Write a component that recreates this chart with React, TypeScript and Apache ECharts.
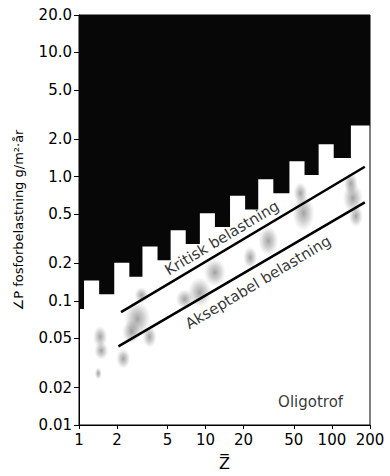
import React, { useEffect, useRef } from "react";
import * as echarts from "echarts";

// ---- axis ticks ----
const xTickValues = [1, 2, 5, 10, 20, 50, 100, 200];
const xTickLabels = ["1", "2", "5", "10", "20", "50", "100", "200"];
const yTickValues = [0.01, 0.02, 0.05, 0.1, 0.2, 0.5, 1, 2, 5, 10, 20];
const yTickLabels = ["0.01", "0.02", "0.05", "0.1", "0.2", "0.5", "1.0", "2.0", "5.0", "10.0", "20.0"];

// ---- dark (eutrophic) region: crenellated lower boundary ----
const notchLeft = [1.096, 1.9, 3.175, 5.303, 9.03, 15.64, 26.14, 46.13, 78.5, 141.2];
const notchRight = [1.443, 2.501, 4.178, 6.98, 11.88, 20.59, 34.4, 60.72, 103.3, 200];
const notchTop = [0.146, 0.202, 0.2735, 0.37, 0.507, 0.702, 0.952, 1.331, 1.823, 2.575];
const merlonBottom = [0.0857, 0.113, 0.156, 0.212, 0.286, 0.392, 0.543, 0.736, 1.03, 1.41];

// ---- loading lines ----
const kritiskLine = [[2.15, 0.081], [182, 1.2]];
const akseptabelLine = [[2.05, 0.043], [182, 0.62]];

// ---- observation clouds [z, L, width, height] ----
const dataClouds = [
  [1.47, 0.0513, 14, 22], [1.5, 0.0396, 14, 18], [1.42, 0.026, 7, 12], [2.24, 0.0342, 14, 20],
  [2.9, 0.0713, 26, 36], [2.59, 0.0562, 18, 24], [3.12, 0.111, 14, 16], [3.61, 0.0513, 14, 22],
  [6.86, 0.103, 18, 20], [9.03, 0.117, 24, 30], [11.88, 0.169, 22, 28], [22.6, 0.223, 14, 22],
  [31.4, 0.304, 20, 30], [56.4, 0.734, 14, 22], [59.6, 0.509, 22, 36], [141, 0.883, 14, 22],
  [146.4, 0.67, 20, 30], [154.7, 0.48, 14, 22],
];

// ---- annotations ----
const slopeLabels = [
  { name: "Kritisk belastning", value: [13.5, 0.32] },
  { name: "Akseptabel belastning", value: [26.1, 0.1407] },
];
const regionLabels = [{ name: "Oligotrof", value: [67.8, 0.01525] }];

const FONT = "DejaVu Sans";

function boundaryPoints() {
  const pts: number[][] = [[1, merlonBottom[0]]];
  for (let k = 0; k < notchLeft.length; k++) {
    pts.push([notchLeft[k], merlonBottom[k]]);
    pts.push([notchLeft[k], notchTop[k]]);
    pts.push([notchRight[k], notchTop[k]]);
    if (k + 1 < notchLeft.length) pts.push([notchRight[k], merlonBottom[k + 1]]);
  }
  return pts;
}

function labelFor(values: number[], labels: string[], v: number) {
  for (let i = 0; i < values.length; i++) {
    if (Math.abs(Math.log10(values[i]) - v) < 1e-6) return labels[i];
  }
  return "";
}

export default function App() {
  const ref = useRef<HTMLDivElement>(null);
  useEffect(() => {
    if (!ref.current) return;
    const chart = echarts.init(ref.current, undefined, { renderer: "svg" });
    const grid = { left: 79, right: 20, top: 15, bottom: 47, show: true, borderColor: "#000", borderWidth: 1 };
    const textLabel = {
      show: true,
      position: "inside",
      formatter: "{b}",
      fontFamily: FONT,
      fontSize: 15,
      color: "#000",
      textBorderWidth: 0,
      textShadowBlur: 0,
    };
    chart.setOption({
      animation: false,
      backgroundColor: "#fff",
      grid,
      xAxis: [
        { type: "log", min: 1, max: 200, show: false },
        {
          type: "value",
          min: 0,
          max: Math.log10(200),
          position: "bottom",
          name: "Z\u0305",
          nameLocation: "middle",
          nameGap: 30,
          nameTextStyle: { fontFamily: FONT, fontSize: 16, color: "#000" },
          axisLine: { show: true, lineStyle: { color: "#000", width: 1 } },
          axisTick: { show: true, length: 4, customValues: xTickValues.map(Math.log10), lineStyle: { color: "#000" } },
          axisLabel: {
            customValues: xTickValues.map(Math.log10),
            formatter: (v: number) => labelFor(xTickValues, xTickLabels, v),
            fontFamily: FONT,
            fontSize: 15,
            color: "#000",
            margin: 7,
          },
          splitLine: { show: false },
        },
      ],
      yAxis: [
        { type: "log", min: 0.01, max: 20, show: false },
        {
          type: "value",
          min: -2,
          max: Math.log10(20),
          position: "left",
          name: "\u2220P fosforbelastning g/m\u00b2\u00b7\u00e5r",
          nameLocation: "middle",
          nameRotate: 90,
          nameGap: 54,
          nameTextStyle: { fontFamily: FONT, fontSize: 13, color: "#000" },
          axisLine: { show: true, lineStyle: { color: "#000", width: 1 } },
          axisTick: { show: true, length: 5, customValues: yTickValues.map(Math.log10), lineStyle: { color: "#000" } },
          axisLabel: {
            customValues: yTickValues.map(Math.log10),
            formatter: (v: number) => labelFor(yTickValues, yTickLabels, v),
            fontFamily: FONT,
            fontSize: 15,
            color: "#000",
            margin: 7,
          },
          splitLine: { show: false },
        },
      ],
      series: [
        {
          type: "line",
          xAxisIndex: 0,
          yAxisIndex: 0,
          data: boundaryPoints(),
          symbol: "none",
          lineStyle: { width: 0, color: "#070707" },
          areaStyle: { origin: "end", color: "#070707", opacity: 1 },
          z: 1,
          silent: true,
        },
        {
          type: "scatter",
          xAxisIndex: 0,
          yAxisIndex: 0,
          data: dataClouds.map((d) => [d[0], d[1], d[2], d[3]]),
          symbolSize: (d: number[]) => [d[2], d[3]],
          itemStyle: {
            color: {
              type: "radial",
              x: 0.5,
              y: 0.5,
              r: 0.5,
              colorStops: [
                { offset: 0, color: "rgba(60,60,60,0.6)" },
                { offset: 0.5, color: "rgba(90,90,90,0.35)" },
                { offset: 1, color: "rgba(130,130,130,0)" },
              ],
            },
          },
          z: 2,
          silent: true,
        },
        {
          type: "line",
          xAxisIndex: 0,
          yAxisIndex: 0,
          data: kritiskLine,
          symbol: "none",
          lineStyle: { width: 2.5, color: "#000" },
          z: 3,
        },
        {
          type: "line",
          xAxisIndex: 0,
          yAxisIndex: 0,
          data: akseptabelLine,
          symbol: "none",
          lineStyle: { width: 2.5, color: "#000" },
          z: 3,
        },
        {
          type: "scatter",
          xAxisIndex: 0,
          yAxisIndex: 0,
          data: slopeLabels,
          symbolSize: 0,
          label: { ...textLabel, rotate: 31 },
          z: 4,
        },
        {
          type: "scatter",
          xAxisIndex: 0,
          yAxisIndex: 0,
          data: regionLabels,
          symbolSize: 0,
          label: textLabel,
          z: 4,
        },
      ],
    });
    return () => chart.dispose();
  }, []);
  return <div ref={ref} style={{ position: "absolute", left: 0, top: 0, width: 390, height: 476 }} />;
}
